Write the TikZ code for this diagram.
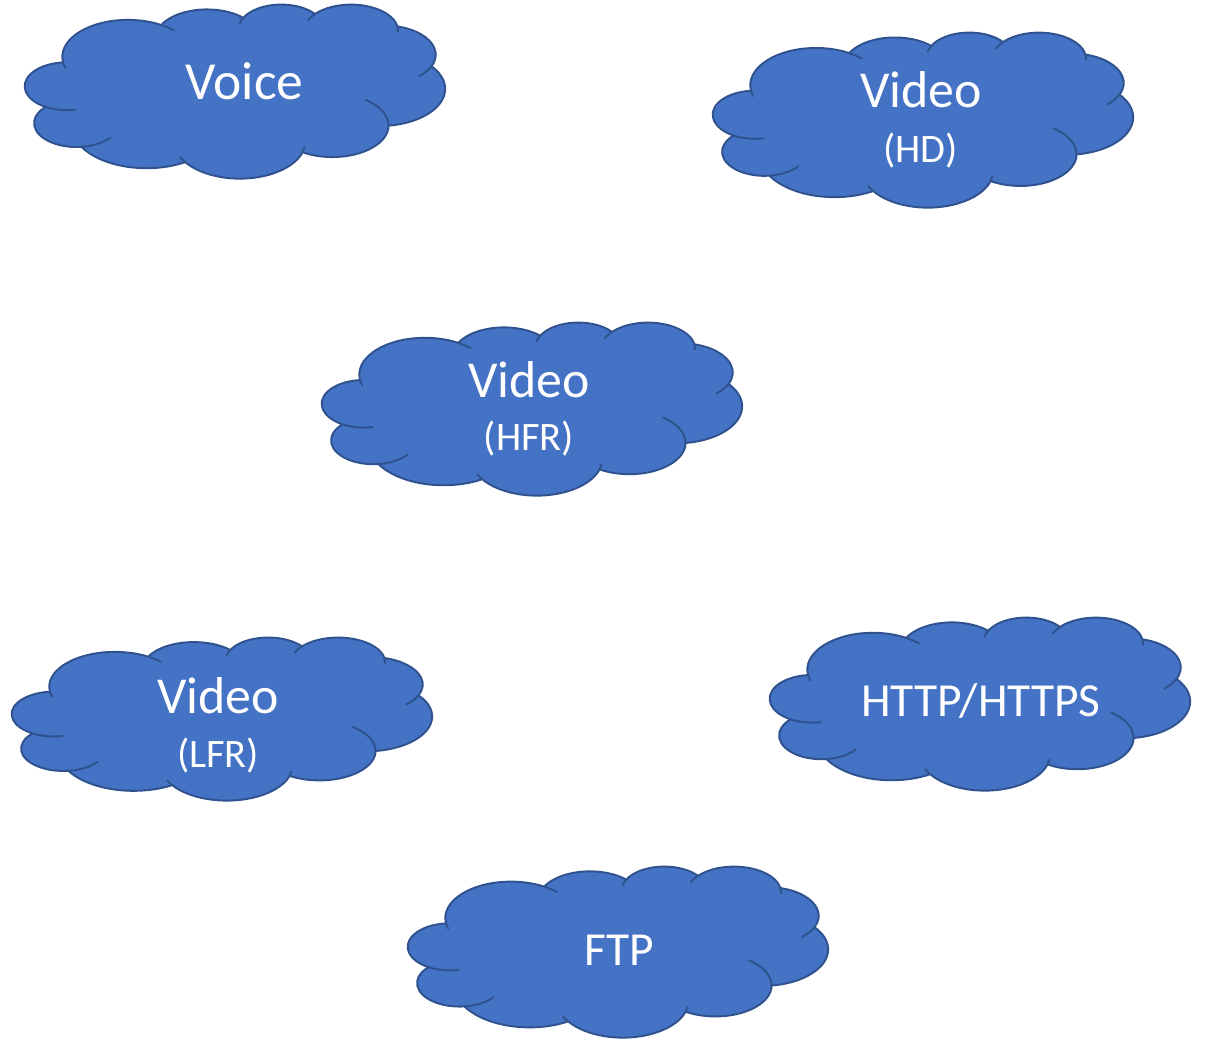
\documentclass[tikz,border=0pt]{standalone}
\usepackage{fontspec}
\setmainfont{Carlito}
\usetikzlibrary{positioning}
\definecolor{cloudblue}{RGB}{68,114,196}
\definecolor{cloudedge}{RGB}{47,82,143}

% one puff of the cloud: x radius, y radius, start angle, sweep
\newcommand\carc[4]{%
  \pgfextra{%
    \pgfmathsetmacro\carcS{atan2((#1)*sin(#3),(#2)*cos(#3))}%
    \pgfmathsetmacro\carcE{atan2((#1)*sin((#3)+(#4)),(#2)*cos((#3)+(#4)))}%
    \pgfmathsetmacro\carcD{ifthenelse((#4)>0,mod((\carcE)-(\carcS)+720,360),-mod((\carcS)-(\carcE)+720,360))}%
  }
  arc[x radius=#1, y radius=#2, start angle=\carcS, delta angle=\carcD]}

% the cloud: name, left, top, width, height
\newcommand\officecloud[5]{%
  \begin{scope}[shift={(#2,#3)},xscale=#4/43.2,yscale=#5/43.2]
    \path[cloudbody] (3.9,14.37) coordinate (#1-j0)
      \carc{6.753}{9.19}{-190.4875}{123.7805} coordinate (#1-j1)
      \carc{5.333}{7.267}{-144.1024}{89.9452} coordinate (#1-j2)
      \carc{4.365}{5.945}{-145.8079}{99.723} coordinate (#1-j3)
      \carc{4.857}{6.595}{-130.9861}{117.2417} coordinate (#1-j4)
      \carc{5.333}{7.273}{-78.7089}{109.0269} coordinate (#1-j5)
      \carc{6.775}{9.22}{-46.2673}{130.269} coordinate (#1-j6)
      \carc{5.785}{7.867}{0.625}{114.0333} coordinate (#1-j7)
      \carc{6.752}{9.215}{22.4516}{115.1726} coordinate (#1-j8)
      \carc{7.72}{10.543}{66.2426}{75.711} coordinate (#1-j9)
      \carc{4.36}{5.918}{-274.9421}{146.7356} coordinate (#1-j10)
      \carc{4.345}{5.945}{-246.8285}{152.5189} -- cycle;
    \draw[cloudline] (#1-j0) \carc{6.753}{9.19}{-190.4875}{-11.86};
    \draw[cloudline] (#1-j1) \carc{6.753}{9.19}{-66.707}{12.32};
    \draw[cloudline] (#1-j2) \carc{4.365}{5.945}{-145.8079}{-17.69};
    \draw[cloudline] (#1-j3) \carc{4.857}{6.595}{-130.9861}{-18.19};
    \draw[cloudline] (#1-j4) \carc{4.857}{6.595}{-13.7444}{14.86};
    \draw[cloudline] (#1-j5) \carc{5.333}{7.273}{30.318}{25};
    \draw[cloudline] (#1-j6) \carc{5.785}{7.867}{0.625}{-62};
    \draw[cloudline] (#1-j7) \carc{6.752}{9.215}{22.4516}{-10};
    \draw[cloudline] (#1-j8) \carc{6.752}{9.215}{137.6242}{10};
    \draw[cloudline] (#1-j9) \carc{4.36}{5.918}{-274.9421}{-40};
    \draw[cloudline] (#1-j10) \carc{4.345}{5.945}{-246.8285}{-32};
  \end{scope}}

\begin{document}
\begin{tikzpicture}[x=0.02cm,y=-0.02cm,
  cloudbody/.style={fill=cloudblue,draw=cloudedge,line width=1.1pt,line join=round},
  cloudline/.style={draw=cloudedge,line width=1.1pt,line cap=round},
  cloudtext/.style={text=white,anchor=base,inner sep=0pt,font=\fontsize{29.5}{32}\selectfont},
  subtext/.style={text=white,anchor=base,inner sep=0pt,font=\fontsize{23}{26}\selectfont}]
\useasboundingbox (0,0) rectangle (1210,1038);

\officecloud{voicecloud}{25}{4}{420}{174}
\officecloud{hdcloud}{713}{32}{420}{175}
\officecloud{hfrcloud}{322}{322}{420}{173}
\officecloud{lfrcloud}{12}{637}{420}{163}
\officecloud{httpcloud}{770}{617}{420}{173}
\officecloud{ftpcloud}{408}{866}{420}{171}

\node[cloudtext,font=\fontsize{30.5}{33}\selectfont] (voice) at (244.5,99.5) {Voice};
\node[cloudtext] (videohd) at (921,107.5) {Video};
\node[subtext] (hd) at (920.5,162) {(HD)};
\node[cloudtext] (videohfr) at (529,397.5) {Video};
\node[subtext] (hfr) at (529,450.5) {(HFR)};
\node[cloudtext] (videolfr) at (218,713) {Video};
\node[subtext] (lfr) at (218,767) {(LFR)};
\node[cloudtext,font=\fontsize{27}{30}\selectfont] (http) at (981,716.5) {HTTP/HTTPS};
\node[cloudtext,font=\fontsize{27}{30}\selectfont] (ftp) at (619,965) {FTP};
\end{tikzpicture}
\end{document}
